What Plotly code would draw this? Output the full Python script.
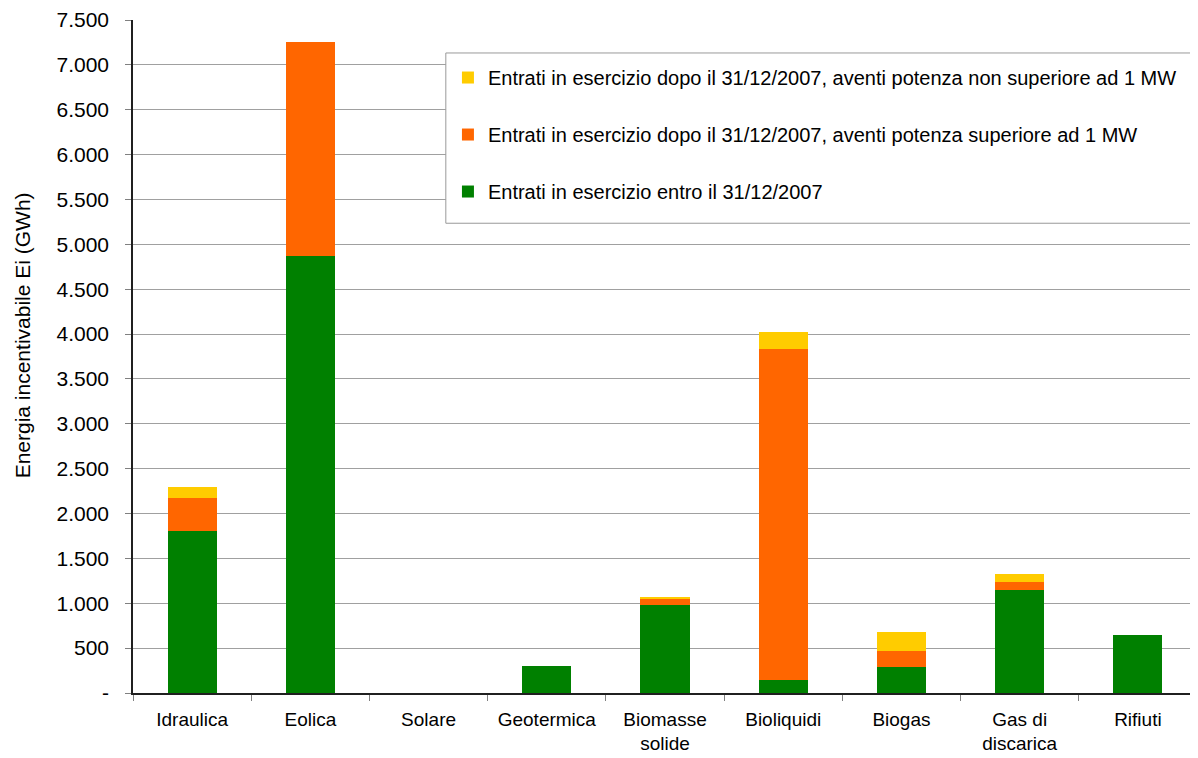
import plotly.graph_objects as go

categories = ["Idraulica", "Eolica", "Solare", "Geotermica", "Biomasse<br>solide",
              "Bioliquidi", "Biogas", "Gas di<br>discarica", "Rifiuti"]
entro_2007 = [1805, 4870, 0, 300, 980, 150, 290, 1150, 650]
dopo_sup_1mw = [368, 2385, 0, 0, 68, 3685, 180, 90, 0]
dopo_non_sup_1mw = [123, 0, 0, 0, 22, 190, 210, 90, 0]

names = [
    "Entrati in esercizio entro il 31/12/2007",
    "Entrati in esercizio dopo il 31/12/2007, aventi potenza superiore ad 1 MW",
    "Entrati in esercizio dopo il 31/12/2007, aventi potenza non superiore ad 1 MW",
]
colors = ["#008000", "#FF6600", "#FFCC00"]

y_tickvals = [0, 500, 1000, 1500, 2000, 2500, 3000, 3500, 4000, 4500, 5000, 5500, 6000, 6500, 7000, 7500]
y_ticktext = ["-", "500", "1.000", "1.500", "2.000", "2.500", "3.000", "3.500", "4.000",
              "4.500", "5.000", "5.500", "6.000", "6.500", "7.000", "7.500"]
y_title = "Energia incentivabile Ei (GWh)"

fig = go.Figure()
ranks = [3, 2, 1]
for i, (vals, nm, col) in enumerate(zip([entro_2007, dopo_sup_1mw, dopo_non_sup_1mw], names, colors)):
    fig.add_trace(go.Bar(x=categories, y=vals, name=nm, marker=dict(color=col, line=dict(width=0)),
                         legendgroup=str(i), legendrank=ranks[i]))

fig.update_layout(
    barmode="stack",
    bargap=0.585,
    width=1190, height=750,
    margin=dict(l=125, r=1, t=12, b=65),
    paper_bgcolor="white", plot_bgcolor="white",
    font=dict(family="Liberation Sans, Arial, sans-serif", size=19, color="black"),
    legend=dict(
        x=0.296, y=0.9435, xanchor="left", yanchor="top",
        traceorder="grouped", tracegroupgap=28,
        borderwidth=0, bgcolor="rgba(0,0,0,0)",
        font=dict(size=20), itemwidth=30,
    ),
    shapes=[dict(type="rect", xref="paper", yref="paper",
                 x0=0.294, x1=0.999, y0=0.698, y1=0.951,
                 line=dict(color="#999999", width=1), fillcolor="white", layer="above")],
    annotations=[dict(text=y_title, xref="paper", yref="paper", x=-0.103, y=0.532,
                      xanchor="center", yanchor="middle", textangle=-90, showarrow=False,
                      font=dict(size=21))],
    showlegend=True,
)
fig.update_xaxes(
    showline=True, linecolor="#202020", linewidth=1.5,
    ticks="outside", tickson="boundaries", ticklen=6, tickcolor="#808080",
    showgrid=False, tickfont=dict(size=19), ticklabelstandoff=8,
)
fig.update_yaxes(
    range=[0, 7500], tickvals=y_tickvals, ticktext=y_ticktext,
    showline=True, linecolor="#202020", linewidth=1.5,
    ticks="outside", ticklen=6, tickcolor="#808080",
    showgrid=True, gridcolor="#A0A0A0", gridwidth=1,
    zeroline=False, tickfont=dict(size=21), ticklabelstandoff=12,
)

fig.write_html("out.html")
